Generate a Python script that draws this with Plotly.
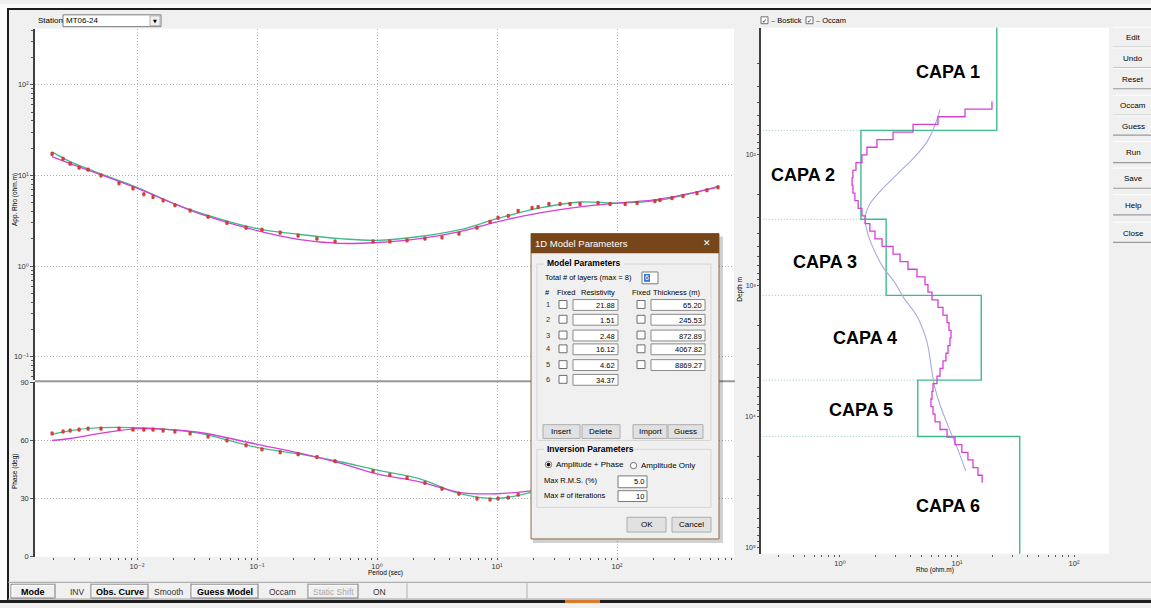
import plotly.graph_objects as go

W, H = 1151, 608
SANS = "Liberation Sans, Arial, sans-serif"
TICKFAM = "Liberation Sans, DejaVu Sans, sans-serif"

# ---------------- observed sounding (station MT06-24) ----------------
period = [0.00196, 0.00242, 0.00277, 0.00329, 0.00391, 0.00501, 0.00708, 0.00926, 0.0114, 0.0136,
          0.0165, 0.0207, 0.0277, 0.0391, 0.0562, 0.0810, 0.110, 0.156, 0.220, 0.316,
          0.447, 0.927, 1.28, 1.78, 2.51, 3.48, 4.82, 6.81, 8.75, 10.2,
          12.4, 15.0, 19.6, 22.0, 27.1, 33.5, 40.6, 49.2, 69.5, 87.5,
          117, 147, 207, 228, 287, 355, 464, 562, 695]
rho_obs = [17.3, 15.3, 13.5, 12.2, 11.6, 10.0, 8.2, 7.2, 6.2, 5.8,
           5.3, 4.7, 4.1, 3.5, 3.0, 2.65, 2.52, 2.34, 2.17, 2.01,
           1.87, 1.87, 1.87, 1.92, 2.01, 2.07, 2.28, 2.65, 3.08, 3.41,
           3.58, 4.06, 4.38, 4.49, 4.84, 4.84, 4.84, 4.84, 4.96, 4.84,
           4.84, 4.96, 5.21, 5.35, 5.62, 5.92, 6.37, 6.87, 7.41]
phase_obs = [63.6, 64.6, 65.1, 65.6, 66.1, 66.1, 66.1, 65.6, 65.6, 65.6,
             65.1, 64.6, 63.6, 62.0, 60.0, 57.5, 55.4, 53.9, 52.9, 51.4,
             49.3, 44.2, 42.2, 40.7, 38.1, 35.1, 32.5, 30.0, 29.5, 30.0,
             30.5, 32.0]

# ---------------- model responses ----------------
resp_period = [0.00196, 0.00277, 0.00492, 0.01, 0.0188, 0.0335, 0.1, 0.228, 0.492,
               1.0, 2.28, 4.92, 10.0, 22.8, 49.2, 100, 228, 695]
rho_layered = [18.2, 14.2, 10.5, 7.41, 5.09, 3.86, 2.59, 2.23, 2.01,
               1.92, 2.12, 2.52, 3.33, 4.38, 5.09, 4.96, 5.35, 7.59]
rho_occam = [16.1, 13.5, 10.3, 7.23, 5.09, 3.77, 2.46, 1.96, 1.78,
             1.82, 2.01, 2.40, 3.08, 3.86, 4.49, 4.96, 5.48, 7.41]
phase_layered = [63.1, 65.1, 66.6, 66.6, 65.6, 63.6, 56.4, 52.9, 49.0,
                 44.7, 40.2, 32.5, 30.0, 34.5]
phase_occam = [60.0, 61.0, 63.6, 66.1, 65.6, 64.1, 58.0, 53.4, 48.3,
               42.7, 38.6, 33.1, 32.5, 34.5]

# ---------------- 1D layered model ----------------
layer_res = [21.88, 1.51, 2.48, 16.12, 4.62, 34.37]
layer_thk = [65.20, 245.53, 872.89, 4067.82, 8869.27]
layer_names = ["CAPA 1", "CAPA 2", "CAPA 3", "CAPA 4", "CAPA 5", "CAPA 6"]

# ---------------- Occam smooth model ----------------
occam_top = [39.3, 44.9, 51.3, 58.7, 67.1, 76.7, 87.7, 100.3, 114.7, 131.1,
             150.0, 171.4, 196.0, 224.2, 256.3, 293.0, 335.0, 383.0, 438.3, 501.2,
             572.8, 654.6, 748.2, 856.0, 979.5, 1119, 1279, 1462, 1675, 1914,
             2188, 2500, 2858, 3273, 3741, 4276, 4887, 5585, 6397, 7311,
             8356, 9550, 10914, 12503, 14289, 16330, 18664, 21330, 24434, 27925,
             31915]
occam_rho = [19.9, 11.7, 6.88, 4.21, 2.84, 2.07, 1.70, 1.54, 1.37, 1.29,
             1.27, 1.29, 1.34, 1.43, 1.54, 1.64, 1.80, 1.99, 2.29, 2.84,
             3.26, 3.81, 4.55, 5.33, 5.65, 6.11, 6.88, 7.59, 8.22, 8.55,
             8.89, 8.71, 8.38, 8.05, 7.59, 7.16, 6.75, 6.24, 6.11, 5.99,
             6.24, 6.49, 7.16, 8.22, 9.61, 11.0, 12.4, 13.7, 15.1, 16.4]

# ---------------- Bostick transform ----------------
bostick_depth = [45, 56.5, 79.8, 107, 141, 190, 238, 303, 379, 509, 720, 948,
                 1210, 1710, 2690, 4510, 6050, 8130, 12740, 17100, 25900]
bostick_rho = [7.16, 6.62, 5.54, 4.21, 3.07, 2.20, 1.80, 1.64, 1.70, 1.91, 2.33, 2.95,
               3.45, 4.55, 5.54, 6.11, 6.49, 7.16, 8.71, 10.0, 11.9]

# ---------------- tick labels ----------------
period_ticks = [0.01, 0.1, 1, 10, 100]
period_ticktext = ["10⁻²", "10⁻¹", "10⁰", "10¹", "10²"]
app_rho_ticks = [0.1, 1, 10, 100]
app_rho_ticktext = ["10⁻¹", "10⁰", "10¹", "10²"]
phase_ticks = [0, 30, 60, 90]
depth_ticks = [100, 1000, 10000, 100000]
depth_ticktext = ["10²", "10³", "10⁴", "10⁵"]
model_rho_ticks = [1, 10, 100]
model_rho_ticktext = ["10⁰", "10¹", "10²"]

GREEN = "#3fbb88"
MAGENTA = "#d63fd6"
BOSTICK = "#a8aae0"
RED = "#e8403a"
GRID = "#b4b4b4"
GRIDDASH = "1px,2px"
AXIS = "#404040"

log_minor = [m * 10 ** e for e in range(-4, 7) for m in range(2, 10)]


def fx(x):
    return x / W


def fy(y):
    return 1 - y / H


shapes, notes = [], []


def box(x0, y0, x1, y1, fill="#f0f0f0", line=None, lw=1, layer="above"):
    shapes.append(dict(type="rect", xref="paper", yref="paper",
                       x0=fx(x0), x1=fx(x1), y0=fy(y1), y1=fy(y0),
                       fillcolor=fill, layer=layer,
                       line=dict(color=line if line else "rgba(0,0,0,0)", width=lw if line else 0)))


def seg(x0, y0, x1, y1, color="#808080", lw=1, layer="above"):
    shapes.append(dict(type="line", xref="paper", yref="paper",
                       x0=fx(x0), x1=fx(x1), y0=fy(y0), y1=fy(y1),
                       line=dict(color=color, width=lw), layer=layer))


def circ(cx, cy, r, fill, line, layer="above"):
    shapes.append(dict(type="circle", xref="paper", yref="paper",
                       x0=fx(cx - r), x1=fx(cx + r), y0=fy(cy + r), y1=fy(cy - r),
                       fillcolor=fill, line=dict(color=line, width=1), layer=layer))


def label(x, y, s, size=8, color="#000000", anchor="left", bold=False, fam=SANS, angle=0):
    notes.append(dict(xref="paper", yref="paper", x=fx(x), y=fy(y),
                      text=f"<b>{s}</b>" if bold else s, showarrow=False,
                      xanchor=anchor, yanchor="middle", textangle=angle, borderpad=0,
                      font=dict(size=size, color=color, family=fam)))


def win_button(x0, y0, x1, y1, text, size=8, bold=False, color="#000000", layer="above"):
    box(x0, y0, x1, y1, fill="#e1e1e1", line="#adadad", layer=layer)
    label((x0 + x1) / 2, (y0 + y1) / 2, text, size=size, bold=bold, color=color, anchor="center")


def classic_button(x0, y0, x1, y1, text, size=8.5, bold=False, color="#000000"):
    box(x0, y0, x1, y1, fill="#f0f0f0", line="#7a7a7a", layer="below")
    seg(x0 + 1, y0 + 1, x1 - 1, y0 + 1, "#ffffff", 1, "below")
    seg(x0 + 1, y0 + 1, x0 + 1, y1 - 1, "#ffffff", 1, "below")
    label((x0 + x1) / 2, (y0 + y1) / 2 + 0.5, text, size=size, bold=bold, color=color, anchor="center")


fig = go.Figure()
data_marker = dict(symbol="square", size=2.6, color=RED, line=dict(color="#b02020", width=0.4))

# ---------------- apparent resistivity panel ----------------
fig.add_trace(go.Scatter(x=resp_period, y=rho_layered, mode="lines",
                         line=dict(color=GREEN, width=1.3, shape="spline"), xaxis="x", yaxis="y"))
fig.add_trace(go.Scatter(x=resp_period, y=rho_occam, mode="lines",
                         line=dict(color=MAGENTA, width=1.3, shape="spline"), xaxis="x", yaxis="y"))
fig.add_trace(go.Scatter(x=period, y=rho_obs, mode="markers", marker=data_marker,
                         error_y=dict(type="percent", value=4, thickness=0.8, width=1.2, color=RED),
                         xaxis="x", yaxis="y"))

# ---------------- phase panel ----------------
n_ph = len(phase_layered)
fig.add_trace(go.Scatter(x=resp_period[:n_ph], y=phase_layered, mode="lines",
                         line=dict(color=GREEN, width=1.3, shape="spline"), xaxis="x2", yaxis="y2"))
fig.add_trace(go.Scatter(x=resp_period[:n_ph], y=phase_occam, mode="lines",
                         line=dict(color=MAGENTA, width=1.3, shape="spline"), xaxis="x2", yaxis="y2"))
fig.add_trace(go.Scatter(x=period[:len(phase_obs)], y=phase_obs, mode="markers", marker=data_marker,
                         error_y=dict(type="constant", value=0.8, thickness=0.8, width=1.2, color=RED),
                         xaxis="x2", yaxis="y2"))

# ---------------- depth model panel ----------------
bounds = []
acc = 0.0
for t in layer_thk:
    acc += t
    bounds.append(acc)

# dotted layer boundaries from the axis to the step
bx, by = [], []
for k, d in enumerate(bounds):
    bx += [0.05, min(layer_res[k], layer_res[k + 1]), None]
    by += [d, d, None]
fig.add_trace(go.Scatter(x=bx, y=by, mode="lines", line=dict(color="#8fc9b8", width=1, dash="1px,2px"),
                         xaxis="x3", yaxis="y3"))

fig.add_trace(go.Scatter(x=layer_res + [layer_res[-1]], y=[1] + bounds + [1e7], mode="lines",
                         line=dict(color=GREEN, width=1.4, shape="vh"), xaxis="x3", yaxis="y3"))
fig.add_trace(go.Scatter(x=bostick_rho, y=bostick_depth, mode="lines",
                         line=dict(color=BOSTICK, width=1.1, shape="spline"), xaxis="x3", yaxis="y3"))
fig.add_trace(go.Scatter(x=occam_rho + [occam_rho[-1]], y=occam_top, mode="lines",
                         line=dict(color=MAGENTA, width=1.3, shape="vh"), xaxis="x3", yaxis="y3"))

tickfont = dict(size=7.5, color="#333333", family=TICKFAM)
minor_style = dict(tickvals=log_minor, ticks="outside", ticklen=2, tickcolor="#555555", showgrid=False)

fig.update_layout(
    width=W, height=H, margin=dict(l=0, r=0, t=0, b=0),
    paper_bgcolor="#f0f0f0", plot_bgcolor="#ffffff", showlegend=False,
    font=dict(family=SANS),
    xaxis=dict(domain=[fx(35), fx(734)], type="log", range=[-2.85, 2.975], anchor="y",
               tickmode="array", tickvals=period_ticks, showticklabels=False, ticks="",
               showgrid=True, gridcolor=GRID, griddash=GRIDDASH, gridwidth=1, zeroline=False, showline=False),
    yaxis=dict(domain=[fy(382), fy(25)], type="log", range=[-1.261, 2.620], anchor="x",
               tickmode="array", tickvals=app_rho_ticks, ticktext=app_rho_ticktext, tickfont=tickfont,
               ticks="outside", ticklen=3, tickcolor="#555555",
               showgrid=True, gridcolor=GRID, griddash=GRIDDASH, gridwidth=1,
               showline=True, linecolor=AXIS, linewidth=1.5, zeroline=False, minor=minor_style),
    xaxis2=dict(domain=[fx(35), fx(734)], type="log", range=[-2.85, 2.975], anchor="y2",
                tickmode="array", tickvals=period_ticks, ticktext=period_ticktext, tickfont=tickfont,
                ticks="outside", ticklen=2, tickcolor="#555555",
                showgrid=True, gridcolor=GRID, griddash=GRIDDASH, gridwidth=1, zeroline=False,
                showline=False, minor=minor_style),
    yaxis2=dict(domain=[fy(561), fy(384)], range=[0, 90], anchor="x2",
                tickmode="array", tickvals=phase_ticks, tickfont=tickfont,
                ticks="outside", ticklen=3, tickcolor="#555555",
                showgrid=True, gridcolor=GRID, griddash=GRIDDASH, gridwidth=1,
                showline=True, linecolor=AXIS, linewidth=1.5, zeroline=False),
    xaxis3=dict(domain=[fx(761), fx(1109)], type="log", range=[-0.675, 2.299], anchor="y3",
                tickmode="array", tickvals=model_rho_ticks, ticktext=model_rho_ticktext, tickfont=tickfont,
                ticks="outside", ticklen=2, tickcolor="#555555", showgrid=False, zeroline=False,
                showline=False, minor=minor_style),
    yaxis3=dict(domain=[fy(558), fy(24)], type="log", range=[5.045, 1.030], anchor="x3",
                tickmode="array", tickvals=depth_ticks, ticktext=depth_ticktext,
                tickfont=dict(size=7, color="#333333", family=TICKFAM),
                ticks="outside", ticklen=2, tickcolor="#555555", showgrid=False, zeroline=False,
                showline=True, linecolor=AXIS, linewidth=1.5, minor=minor_style),
)

# ---------------- window frame ----------------
box(0, 0, W, 4, fill="#fbfbfb", layer="below")
box(0, 0, 7, H, fill="#fbfbfb", layer="below")
seg(7, 5, W, 5, "#1c1c1c", 2, "below")
seg(8, 5, 8, 606, "#1c1c1c", 2, "below")
seg(35, 383, 735, 383, "#9a9a9a", 2, "above")
box(0, 605, W, H, fill="#1f1f1f", layer="above")
box(565, 605, 600, H, fill="#d97a2b", layer="above")

# station selector
label(37, 17, "Station", size=8)
box(63, 11, 161, 23, fill="#ffffff", line="#7a7a7a", layer="below")
label(65, 17, "MT06-24", size=8)
box(150, 12, 160, 22, fill="#f0f0f0", line="#b0b0b0", layer="below")
label(155, 17, "▼", size=5, anchor="center", fam="DejaVu Sans")

# axis titles
label(15, 198, "App. Rho (ohm.m)", size=6.5, anchor="center", angle=-90)
label(15, 474, "Phase (deg)", size=6.5, anchor="center", angle=-90)
label(385, 578, "Period (sec)", size=6.5, anchor="center")
label(740, 290, "Depth m", size=6.5, anchor="center", angle=-90)
label(935, 575, "Rho (ohm.m)", size=6.5, anchor="center")

# curve selector above the model panel
for cx, name, col in [(761, "Bostick", "#6f74cc"), (806, "Occam", MAGENTA)]:
    box(cx, 13, cx + 7, 20, fill="#ffffff", line="#707070", layer="below")
    label(cx + 3.5, 16.5, "✓", size=6, anchor="center", fam="DejaVu Sans")
    label(cx + 9, 17, f"<span style='color:{col}'><b>–</b></span> {name}", size=7.5)

# layer labels
capa_pos = [(948, 69), (803, 174), (825, 262), (865, 339), (861, 412), (948, 510)]
for name, (cx, cy) in zip(layer_names, capa_pos):
    label(cx, cy, name, size=18, bold=True, anchor="center", fam="Liberation Sans, Arial")

# side command buttons
side_buttons = [("Edit", 23, 44), ("Undo", 44, 65), ("Reset", 65, 86), ("Occam", 92, 113),
                ("Guess", 113, 133), ("Run", 139, 161), ("Save", 166, 187), ("Help", 193, 214),
                ("Close", 221, 242)]
for name, y0, y1 in side_buttons:
    box(1113, y0, W, y1, fill="#f0f0f0", layer="below")
    seg(1113, y1, W, y1, "#9a9a9a", 1.2, "below")
    seg(1113, y0 + 0.5, W, y0 + 0.5, "#ffffff", 1, "below")
    label(1133, (y0 + y1) / 2 + 1, name, size=8, anchor="center")

# bottom mode bar
seg(8, 587, W, 587, "#a0a0a0", 1, "below")
seg(8, 604, W, 604, "#a0a0a0", 1, "below")
classic_button(11, 589, 55, 603, "Mode", size=9, bold=True)
label(77, 596.5, "INV", size=8.5, anchor="center", color="#333333")
classic_button(91, 589, 148, 603, "Obs. Curve", size=9, bold=True)
label(169, 596.5, "Smooth", size=8.5, anchor="center", color="#333333")
classic_button(191, 589, 258, 603, "Guess Model", size=9, bold=True)
label(282, 596.5, "Occam", size=8.5, anchor="center", color="#333333")
classic_button(308, 589, 358, 603, "Static Shift", size=8.5, color="#a8a8a8")
label(380, 596.5, "ON", size=8.5, anchor="center", color="#333333")
for sx in [55, 91, 148, 191, 258, 308, 358, 407, 527]:
    seg(sx, 588, sx, 604, "#b0b0b0", 1, "below")

# ---------------- 1D Model Parameters dialog ----------------
box(533, 236, 723, 547, fill="rgba(0,0,0,0.18)")
box(531, 233, 719, 543, fill="#f0f0f0", line="#8a6a48", lw=1)
box(531, 233, 719, 253, fill="#76461a")
label(534, 243, "1D Model Parameters", size=9.5, color="#ffffff")
label(707, 243, "✕", size=9, color="#ffffff", anchor="center", fam="DejaVu Sans")

# model parameters group
box(537, 264, 711, 443, fill="rgba(0,0,0,0)", line="#d5d5d5")
box(544, 258, 624, 269, fill="#f0f0f0")
label(546, 263, "Model Parameters", size=8.5, bold=True)
label(544, 278, "Total # of layers (max = 8)", size=7.5)
box(642, 272, 658, 284, fill="#ffffff", line="#7a7a7a")
box(644, 274, 650, 282, fill="#3478d0")
label(647, 278, str(len(layer_res)), size=7, color="#ffffff", anchor="center")

label(544, 293, "#", size=7.5)
label(556, 293, "Fixed", size=7.5)
label(580, 293, "Resistivity", size=7.5)
label(631, 293, "Fixed", size=7.5)
label(652, 293, "Thickness (m)", size=7.5)

row_y = [306, 321, 337, 351, 367, 382]
for i, ry in enumerate(row_y):
    label(545, ry - 1, str(i + 1), size=7.5, color="#333333")
    box(559, ry - 5, 567, ry + 3, fill="#ffffff", line="#6f6f6f")
    box(573, ry - 6, 618, ry + 5, fill="#ffffff", line="#8a8a8a")
    label(616, ry, f"{layer_res[i]:.2f}", size=7.5, anchor="right")
    if i < len(layer_thk):
        box(637, ry - 5, 645, ry + 3, fill="#ffffff", line="#6f6f6f")
        box(651, ry - 6, 705, ry + 5, fill="#ffffff", line="#8a8a8a")
        label(703, ry, f"{layer_thk[i]:.2f}", size=7.5, anchor="right")

win_button(543, 427, 580, 441, "Insert", size=8)
win_button(582, 427, 620, 441, "Delete", size=8)
win_button(633, 427, 667, 441, "Import", size=8)
win_button(668, 427, 703, 441, "Guess", size=8)

# inversion parameters group
box(537, 452, 711, 511, fill="rgba(0,0,0,0)", line="#d5d5d5")
box(544, 447, 634, 457, fill="#f0f0f0")
label(546, 452, "Inversion Parameters", size=8.5, bold=True)
circ(548.5, 467.5, 3.2, "#ffffff", "#6f6f6f")
circ(548.5, 467.5, 1.4, "#000000", "#000000")
label(555, 467, "Amplitude + Phase", size=8)
circ(633.5, 468.5, 3.2, "#ffffff", "#6f6f6f")
label(640, 468, "Amplitude Only", size=8)
label(543, 484, "Max R.M.S. (%)", size=7.5)
box(618, 479, 647, 491, fill="#ffffff", line="#7a7a7a")
label(645, 485, "5.0", size=7.5, anchor="right")
label(543, 499, "Max # of iterations", size=7.5)
box(618, 494, 647, 505, fill="#ffffff", line="#7a7a7a")
label(645, 499.5, "10", size=7.5, anchor="right")

win_button(627, 521, 666, 536, "OK", size=8)
win_button(672, 521, 711, 536, "Cancel", size=8)

fig.update_layout(shapes=shapes, annotations=notes)
fig.write_html("out.html")
